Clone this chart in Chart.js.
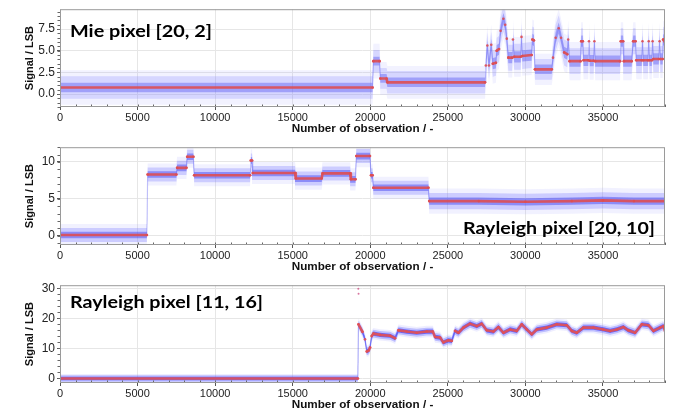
<!DOCTYPE html>
<html><head><meta charset="utf-8">
<script src="https://cdn.jsdelivr.net/npm/chart.js@4.4.0/dist/chart.umd.min.js"></script>
<style>
html,body{margin:0;padding:0;background:#fff;}
#wrap{position:relative;width:673px;height:417px;overflow:hidden;background:#fff;}
.p{position:absolute;left:0;width:673px;height:137px;}
</style></head><body>
<div id="wrap">
<div class="p" style="top:0"><canvas id="c1"></canvas></div>
<div class="p" style="top:138px"><canvas id="c2"></canvas></div>
<div class="p" style="top:276px"><canvas id="c3"></canvas></div>
</div>
<script>
// ---------- tick labels ----------
const xTicks = [0, 5000, 10000, 15000, 20000, 25000, 30000, 35000];
const mieYTicks = [0.0, 2.5, 5.0, 7.5];
const rayAYTicks = [0, 5, 10];
const rayBYTicks = [0, 10, 20, 30];

// ---------- Mie pixel [20, 2] ----------
const mieX = [0, 20150, 20200, 20600, 20650, 21050, 21100, 27400, 27450, 27550, 27650, 27800, 27900, 28100, 28150, 28300, 28400, 28580, 28700, 28800, 28900, 29150, 29200, 29280, 29700, 29750, 29800, 30400, 30450, 30550, 30620, 31700, 31780, 31950, 32150, 32300, 32500, 32700, 32760, 32850, 33550, 33600, 33700, 33750, 34050, 34100, 34150, 34400, 34450, 34500, 36100, 36150, 36300, 36350, 36850, 36950, 37100, 37150, 37500, 37550, 37600, 37900, 37950, 38000, 38150, 38200, 38250, 38600, 38650, 38700, 38850, 38880, 39000];
const mieMedian = [0.75, 0.75, 3.8, 3.8, 1.8, 1.8, 1.35, 1.35, 3.3, 5.6, 3.3, 5.7, 3.5, 3.6, 5.0, 5.2, 7.3, 8.7, 8.0, 6.4, 4.2, 4.2, 6.3, 4.3, 4.3, 6.6, 4.4, 4.5, 6.3, 6.2, 2.85, 2.85, 4.2, 6.5, 7.6, 6.5, 4.8, 4.6, 6.3, 3.8, 3.8, 6.1, 6.1, 3.9, 3.9, 6.1, 3.85, 3.85, 6.1, 3.8, 3.8, 6.1, 6.1, 3.8, 3.8, 6.1, 6.1, 3.9, 3.9, 6.1, 3.9, 3.9, 6.1, 3.9, 3.9, 6.1, 4.05, 4.05, 6.1, 4.05, 4.05, 6.3, 6.0];
const mieSpreadFrom = [0, 20180, 20630, 21080, 27420, 30600, 31720];
const mieFar = [2.0, 2.0, 1.9, 1.9, 2.3, 1.8, 2.2];
const mieOuter = [1.3, 1.3, 1.2, 1.3, 1.5, 1.2, 1.5];
const mieInner = [0.55, 0.5, 0.5, 0.55, 0.65, 0.55, 0.65];

// ---------- Rayleigh pixel [20, 10] ----------
const rayAX = [0, 5600, 5650, 7500, 7550, 8150, 8200, 8600, 8650, 12250, 12300, 12380, 12430, 15150, 15200, 16870, 16920, 18700, 18750, 19050, 19100, 19980, 20050, 20150, 20200, 23750, 23800, 27000, 30000, 33000, 35000, 37000, 39000];
const rayAMedian = [0.1, 0.1, 8.3, 8.3, 9.2, 9.2, 10.7, 10.7, 8.2, 8.2, 10.2, 10.2, 8.5, 8.5, 7.75, 7.75, 8.45, 8.45, 7.65, 7.65, 10.8, 10.8, 8.2, 8.2, 6.5, 6.5, 4.7, 4.7, 4.6, 4.7, 4.8, 4.7, 4.7];
const rayASpreadFrom = [0, 23780];
const rayAFar = [1.5, 1.7];
const rayAOuter = [0.95, 1.1];
const rayAInner = [0.45, 0.5];

// ---------- Rayleigh pixel [11, 16] ----------
const rayBX = [0, 19200, 19240, 19500, 19665, 19775, 19900, 19990, 20095, 20200, 20632, 21277, 21599, 21814, 22351, 22996, 23641, 24030, 24178, 24500, 24713, 25036, 25254, 25467, 25681, 26004, 26435, 26865, 27188, 27510, 27939, 28262, 28584, 29013, 29443, 29765, 30088, 30410, 30735, 31380, 32022, 32667, 32990, 33312, 33740, 34384, 35029, 35461, 35893, 36320, 36640, 37073, 37505, 37932, 38254, 38685, 38900, 39000];
const rayBMedian = [0.0, 0.0, 18.0, 15.5, 13.0, 9.0, 9.3, 10.3, 14.1, 14.9, 14.5, 14.2, 13.4, 16.0, 15.6, 15.2, 15.6, 15.6, 13.8, 13.6, 12.0, 12.7, 12.5, 15.8, 15.2, 16.9, 18.2, 17.4, 18.2, 16.0, 15.6, 17.1, 15.2, 16.3, 15.8, 18.0, 16.3, 14.7, 16.3, 16.9, 18.0, 17.7, 15.8, 15.2, 16.9, 16.9, 16.3, 15.8, 16.3, 17.1, 16.0, 15.2, 18.0, 17.7, 15.8, 16.9, 17.4, 15.8];
const rayBSpreadFrom = [0, 19220];
const rayBFar = [1.5, 1.9];
const rayBOuter = [1.1, 1.3];
const rayBInner = [0.6, 0.7];
const rayBOutlierX = [19230, 19245];
const rayBOutlierY = [29.8, 28.2];

// ---------- helpers ----------
const TICK_FONT = '"Liberation Sans Narrow", "Liberation Sans", sans-serif';
function spreadAt(x, from, vals) {
  let v = vals[0];
  for (let i = 0; i < from.length; i++) if (x >= from[i]) v = vals[i];
  return v;
}
function steep(c) {
  const dx = Math.abs(c.p1.x - c.p0.x), dy = Math.abs(c.p1.y - c.p0.y);
  return dy > 6 && dy > 2 * dx;
}

const framePlugin = {
  id: 'frame',
  afterDraw(chart, args, o) {
    const { ctx, chartArea: a } = chart;
    const xs = chart.scales.x, ys = chart.scales.y;
    ctx.save();
    ctx.strokeStyle = '#666';
    ctx.lineWidth = 1;
    ctx.beginPath();
    for (let v = 0; v <= 39000; v += 1000) {
      const px = Math.round(xs.getPixelForValue(v)) + 0.5;
      ctx.moveTo(px, a.bottom); ctx.lineTo(px, a.bottom - 2.5);
    }
    for (let v = o.yMinorStart; v <= ys.max; v += o.yMinorStep) {
      if (v < ys.min) continue;
      const py = Math.round(ys.getPixelForValue(v)) + 0.5;
      ctx.moveTo(a.left, py); ctx.lineTo(a.left - 2.5, py);
    }
    ctx.stroke();
    ctx.strokeStyle = '#9a9a9a';
    ctx.strokeRect(a.left + 0.5, a.top + 0.5, a.right - a.left - 1, a.bottom - a.top - 1);
    ctx.font = 'bold 17px Lato, "Open Sans", sans-serif';
    const w = ctx.measureText(o.label).width;
    const sx = o.width / w;
    ctx.translate(o.align === 'right' ? o.lx - o.width : o.lx, o.ly);
    ctx.scale(sx, 1);
    ctx.fillStyle = '#000';
    ctx.textAlign = 'left';
    ctx.textBaseline = 'alphabetic';
    ctx.fillText(o.label, 0, 0);
    ctx.restore();
  }
};

function band(X, med, sFrom, vals, sign) {
  return X.map((x, i) => ({ x: x, y: med[i] + sign * spreadAt(x, sFrom, vals) }));
}

function makePanel(id, X, med, sFrom, far, outer, inner, yMin, yMax, yTicks, dec, colors, frame, extra) {
  const datasets = [];
  if (extra) datasets.push(extra);
  const edge = { borderWidth: 0, borderColor: 'transparent', pointRadius: 0, tension: 0 };
  datasets.push(
    { data: X.map((x, i) => ({ x: x, y: med[i] })), borderColor: colors.med, borderWidth: 2.6, tension: 0,
      pointRadius: 1.3, pointBackgroundColor: colors.med, pointBorderWidth: 0, fill: false,
      segment: { borderColor: c => steep(c) ? colors.jump : undefined, borderWidth: c => steep(c) ? 1.2 : undefined } },
    Object.assign({ data: band(X, med, sFrom, inner, 1), fill: '+1', backgroundColor: colors.inner }, edge),
    Object.assign({ data: band(X, med, sFrom, inner, -1), fill: false }, edge),
    Object.assign({ data: band(X, med, sFrom, outer, 1), fill: '+1', backgroundColor: colors.outer }, edge),
    Object.assign({ data: band(X, med, sFrom, outer, -1), fill: false }, edge),
    Object.assign({ data: band(X, med, sFrom, far, 1), fill: '+1', backgroundColor: colors.far }, edge),
    Object.assign({ data: band(X, med, sFrom, far, -1), fill: false }, edge)
  );
  return new Chart(document.getElementById(id), {
    type: 'line',
    data: { datasets: datasets },
    plugins: [framePlugin],
    options: {
      responsive: true, maintainAspectRatio: false, animation: false, devicePixelRatio: 1,
      layout: { padding: { top: 8, right: 8, left: 0, bottom: 0 } },
      plugins: { legend: { display: false }, tooltip: { enabled: false }, frame: frame },
      elements: { line: { borderJoinStyle: 'round', borderCapStyle: 'round' } },
      scales: {
        x: {
          type: 'linear', min: 0, max: 39000,
          afterBuildTicks: s => { s.ticks = xTicks.map(v => ({ value: v })); },
          afterFit: s => { s.height = 30; },
          grid: { color: '#e6e6e6', lineWidth: 1, drawTicks: true, tickLength: 3, tickColor: '#555' },
          border: { display: false },
          ticks: { font: { family: TICK_FONT, size: 11 }, color: '#222', padding: 1, maxRotation: 0, autoSkip: false, callback: v => String(v) },
          title: { display: true, text: 'Number of observation / -', font: { family: TICK_FONT, size: 11.7, weight: 'bold' }, color: '#111', padding: { top: 0, bottom: 1 } }
        },
        y: {
          type: 'linear', min: yMin, max: yMax,
          afterBuildTicks: s => { s.ticks = yTicks.map(v => ({ value: v })); },
          afterFit: s => { s.width = 60; },
          grid: { color: '#e6e6e6', lineWidth: 1, drawTicks: true, tickLength: 3, tickColor: '#555' },
          border: { display: false },
          ticks: { font: { family: TICK_FONT, size: 12 }, color: '#222', padding: 2, callback: v => Number(v).toFixed(dec) },
          title: { display: true, text: 'Signal / LSB', font: { family: '"Liberation Sans", sans-serif', size: 11, weight: 'bold' }, color: '#111', padding: { top: 23, bottom: 0 } }
        }
      }
    }
  });
}

makePanel('c1', mieX, mieMedian, mieSpreadFrom, mieFar, mieOuter, mieInner, -1.5, 9.8, mieYTicks, 1,
  { med: 'rgba(222,78,82,0.9)', jump: 'rgba(110,110,240,0.35)', inner: 'rgba(80,80,240,0.40)', outer: 'rgba(130,130,255,0.26)', far: 'rgba(160,160,255,0.14)' },
  { label: 'Mie pixel [20, 2]', lx: 70, ly: 37, align: 'left', width: 142, yMinorStart: -1.5, yMinorStep: 0.5 });

makePanel('c2', rayAX, rayAMedian, rayASpreadFrom, rayAFar, rayAOuter, rayAInner, -1.25, 12, rayAYTicks, 0,
  { med: 'rgba(222,78,82,0.9)', jump: 'rgba(110,110,240,0.35)', inner: 'rgba(70,70,240,0.48)', outer: 'rgba(120,120,255,0.30)', far: 'rgba(160,160,255,0.15)' },
  { label: 'Rayleigh pixel [20, 10]', lx: 655, ly: 95.5, align: 'right', width: 192, yMinorStart: -1, yMinorStep: 1 });

makePanel('c3', rayBX, rayBMedian, rayBSpreadFrom, rayBFar, rayBOuter, rayBInner, -1.5, 31, rayBYTicks, 0,
  { med: 'rgba(225,80,85,0.9)', jump: 'rgba(90,90,240,0.45)', inner: 'rgba(50,50,250,0.62)', outer: 'rgba(100,100,255,0.35)', far: 'rgba(150,150,255,0.16)' },
  { label: 'Rayleigh pixel [11, 16]', lx: 70, ly: 32, align: 'left', width: 193, yMinorStart: 0, yMinorStep: 2 },
  { type: 'scatter', data: rayBOutlierX.map((x, i) => ({ x: x, y: rayBOutlierY[i] })), pointRadius: 1, backgroundColor: 'rgba(200,60,120,0.7)', borderWidth: 0, showLine: false });
</script>
</body></html>
